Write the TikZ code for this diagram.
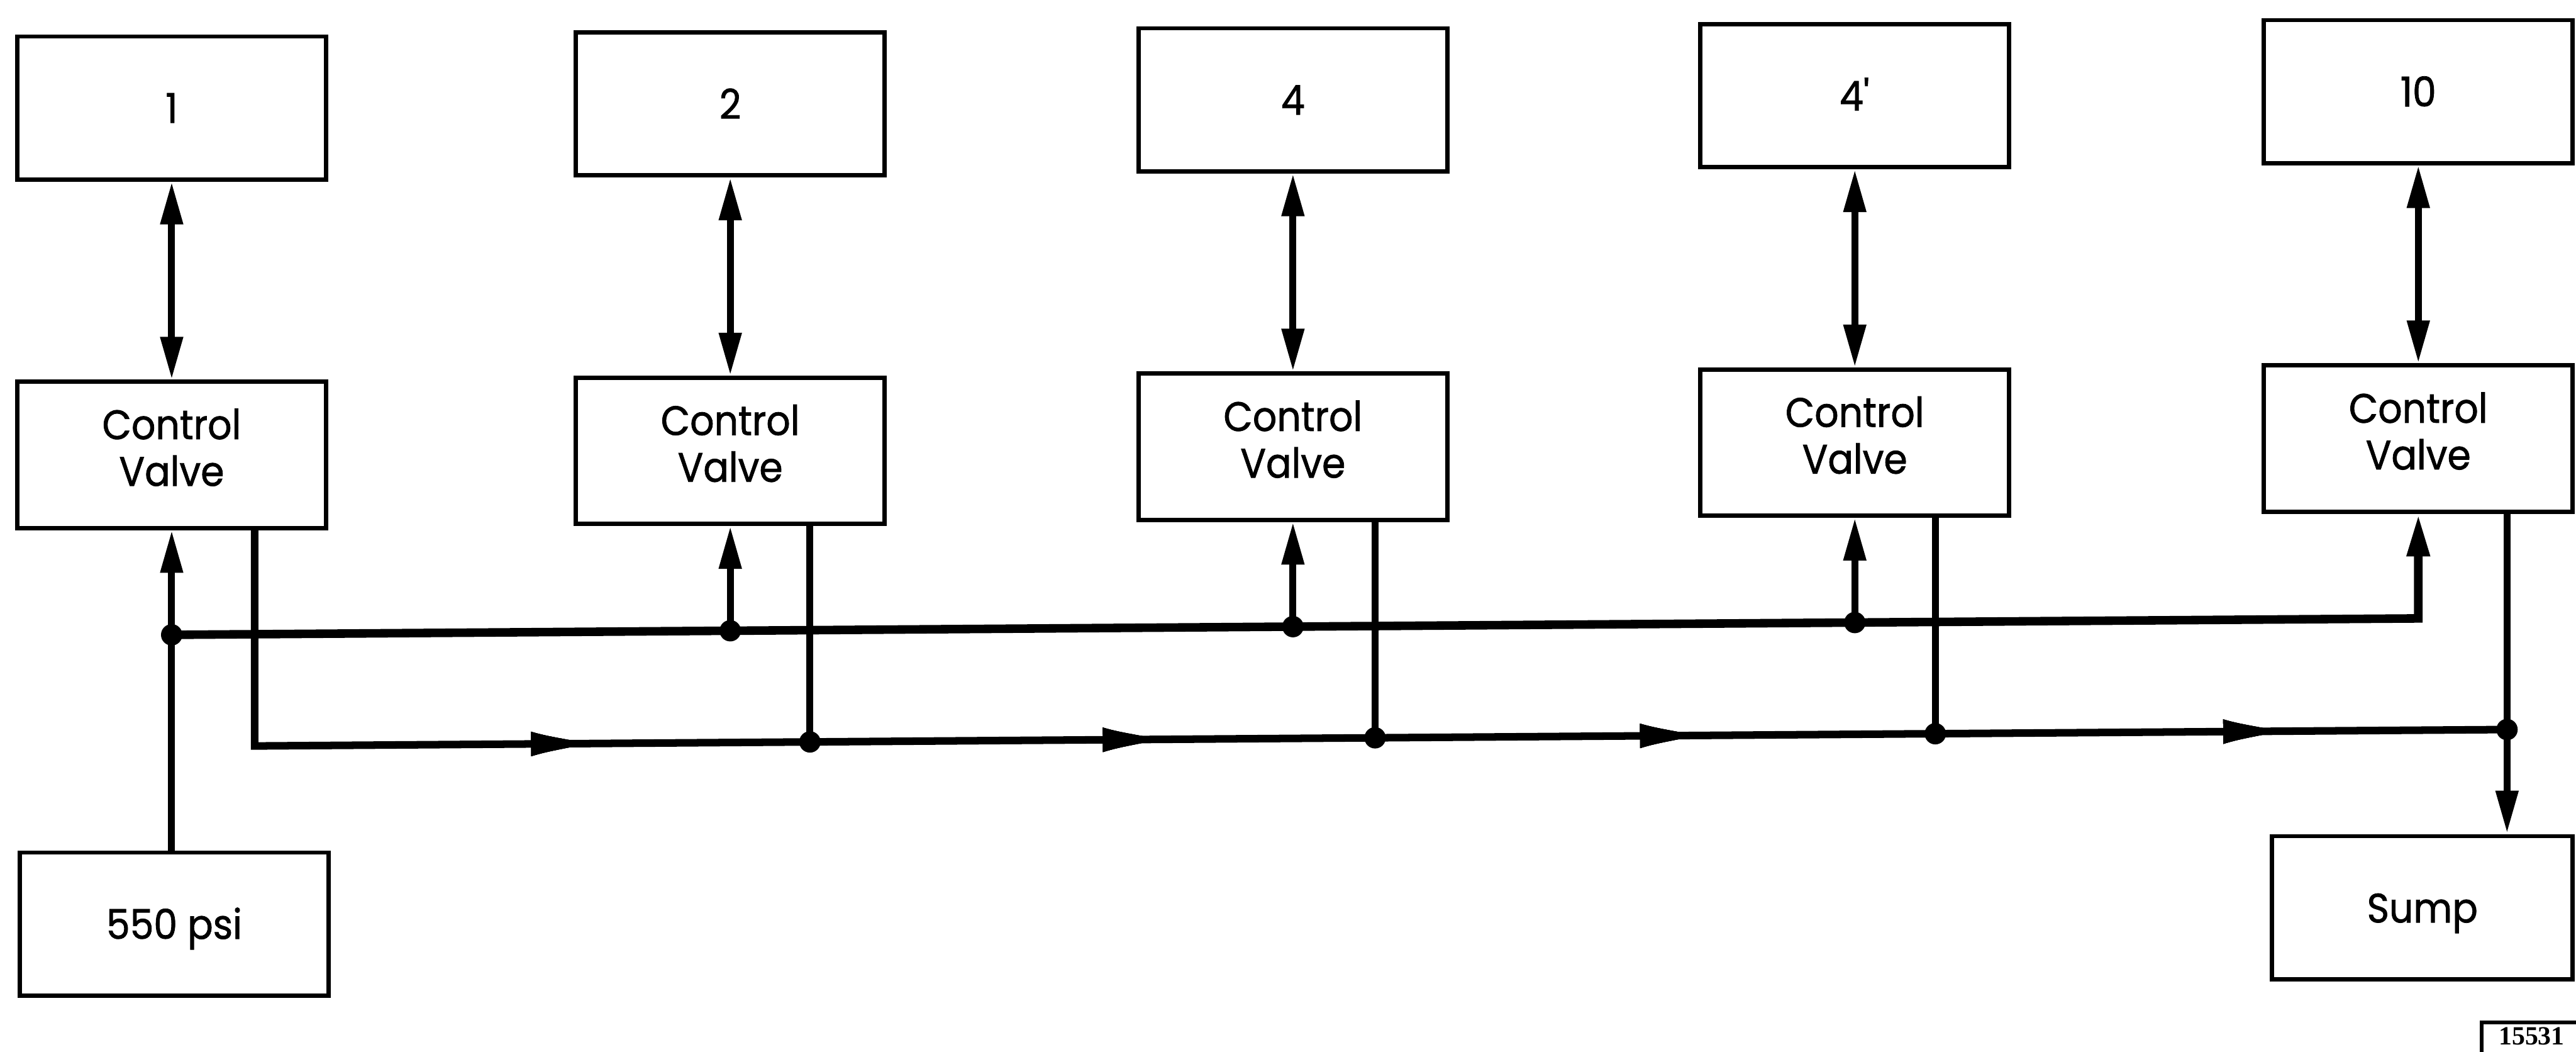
\documentclass[tikz,border=0pt]{standalone}
\usepackage{fontspec}
\setmainfont{Poppins}[FakeStretch=0.92, FakeBold=1.2]
\newfontfamily\tagfont{Liberation Serif}
\usetikzlibrary{arrows.meta,decorations.markings,calc}
\tikzset{
  Tp/.tip={Triangle[length=26pt,width=13pt]},
  box/.style={draw, line width=2.6pt, rectangle, minimum width=188pt, inner sep=0pt,
    font=\fontsize{25}{28.4}\selectfont, text height=18pt, text depth=0pt},
  numbox/.style={box, minimum height=87pt},
  cvbox/.style={box, minimum height=89pt},
  cvtext/.style={align=center, inner sep=0pt, font=\fontsize{25}{28.4}\selectfont},
  pipe/.style={line width=4.2pt},
  bus/.style={line width=5.2pt},
  ret/.style={line width=4.6pt, line join=miter},
  dot/.style={circle, fill, inner sep=0pt, minimum size=13pt},
  flowmark/.style={decoration={markings, mark=at position #1 with {
      \fill (0pt,0pt) .. controls (-8pt,2.4pt) and (-22pt,4pt) .. (-33pt,7.5pt)
        -- (-33pt,-7.5pt) .. controls (-22pt,-4pt) and (-8pt,-2.4pt) .. (0pt,0pt) -- cycle;}},
      postaction={decorate}},
}
\begin{document}
\begin{tikzpicture}[x=1pt,y=-1pt]
\useasboundingbox (0,0) rectangle (1568,640);
\begin{scope}[cm={1,0.0073,0,1,(0,0)}]
  % upper boxes
  \node[numbox] (n1)  at (104.5,66.5) {1};
  \node[numbox] (n2)  at (444.5,66.5) {2};
  \node[numbox] (n4)  at (787,66.5) {4};
  \node[numbox] (n4p) at (1129,66.5) {4\textquotesingle};
  \node[numbox] (n10) at (1472,66.5) {10};
  % control valves
  \node[cvbox] (cv1) at (104.5,277.5) {};
  \node[cvbox] (cv2) at (444.5,277.5) {};
  \node[cvbox] (cv3) at (787,277.5) {};
  \node[cvbox] (cv4) at (1129,277.5) {};
  \node[cvbox] (cv5) at (1472,277.5) {};
  \foreach \i in {1,...,5}{
    \node[cvtext] (cv\i t) at ([yshift=4.5pt]cv\i.center) {Control\\Valve};
  }
  % source and sump
  \node[numbox] (src)  at (106,563) {550 psi};
  \node[numbox, minimum width=183pt] (sump) at (1474.5,563) {Sump};
  % junction coordinates
  \coordinate (b1) at (104.5,387);
  \coordinate (b2) at (444.5,387);
  \coordinate (b3) at (787,387);
  \coordinate (b4) at (1129,387);
  \coordinate (b5) at (1472,387);
  \coordinate (r1) at (155,455);
  \coordinate (r2) at (493,455);
  \coordinate (r3) at (837,455);
  \coordinate (r4) at (1178,455);
  \coordinate (r5) at (1526,455);
  % double arrows
  \draw[pipe, Tp-Tp] (n1.south) -- (cv1.north);
  \draw[pipe, Tp-Tp] (n2.south) -- (cv2.north);
  \draw[pipe, Tp-Tp] (n4.south) -- (cv3.north);
  \draw[pipe, Tp-Tp] (n4p.south) -- (cv4.north);
  \draw[pipe, Tp-Tp] (n10.south) -- (cv5.north);
  % return lines
  \draw[ret, flowmark=333pt, flowmark=681pt, flowmark=1008pt, flowmark=1363pt]
    (cv1.south -| r1) -- (r1) -- (r2) -- (r3) -- (r4) -- (r5);
  \draw[pipe] (cv2.south -| r2) -- (r2);
  \draw[pipe] (cv3.south -| r3) -- (r3);
  \draw[pipe] (cv4.south -| r4) -- (r4);
  \draw[pipe] (cv5.south -| r5) -- (r5);
  \draw[pipe, -Tp] (r5) -- (sump.north -| r5);
  % supply bus
  \draw[pipe, -Tp] (src.north -| b1) -- (b1) -- (cv1.south);
  \draw[bus, -Tp] (b1) -- (b5) -- (cv5.south);
  \draw[pipe, -Tp] (b2) -- (cv2.south);
  \draw[pipe, -Tp] (b3) -- (cv3.south);
  \draw[pipe, -Tp] (b4) -- (cv4.south);
  % junction dots
  \node[dot] (d1) at (b1) {};
  \node[dot] (d2) at (b2) {};
  \node[dot] (d3) at (b3) {};
  \node[dot] (d4) at (b4) {};
  \node[dot] (e2) at (r2) {};
  \node[dot] (e3) at (r3) {};
  \node[dot] (e4) at (r4) {};
  \node[dot] (e5) at (r5) {};
\end{scope}
% drawing number tag
\node[draw, line width=2.2pt, minimum width=90pt, minimum height=40pt, anchor=north west, inner sep=0pt] (tag) at (1509.5,621) {};
\node[font=\tagfont\bfseries\fontsize{16}{16}\selectfont, inner sep=0pt] (tagtext) at (1541,630.5) {15531};
\end{tikzpicture}
\end{document}
